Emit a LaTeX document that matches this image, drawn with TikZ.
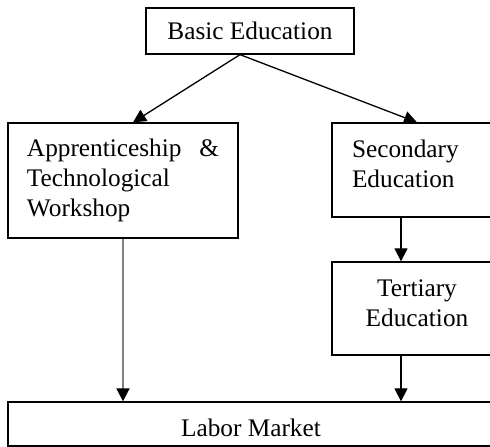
\documentclass[tikz,border=0pt]{standalone}
\usepackage{fontspec}
\setmainfont{Liberation Serif}
\usetikzlibrary{arrows.meta}

\begin{document}
\begin{tikzpicture}[
    x=1pt, y=1pt,
    box/.style={rectangle, draw=black, line width=1.3pt, fill=white,
        inner sep=0pt, font=\fontsize{25.3}{30}\selectfont},
    link/.style={line width=1.3pt, -{Triangle[length=13pt,width=13pt,color=black]}}
]
    \fill[white] (0,0) rectangle (490,447);
    \useasboundingbox (0,0) rectangle (490,447);
    \node[box, minimum width=208pt, minimum height=46pt] (basic) at (250,416) {Basic Education};
    \node[box, minimum width=230pt, minimum height=115pt, text width=192pt, align=left] (appr) at (123,266.5)
        {Apprenticeship\hfill\&\\Technological\\Workshop};
    \node[box, minimum width=170pt, minimum height=94pt, text width=130pt, align=left, text depth=43pt] (second) at (417,277)
        {Secondary\\Education};
    \node[box, minimum width=170pt, minimum height=93pt, align=center, text depth=11pt] (third) at (417,138.5)
        {Tertiary\\Education};
    \node[box, minimum width=486pt, minimum height=44pt, text height=25pt] (labor) at (251,23) {Labor Market};
    \draw[link] ([xshift=-10pt]basic.south) -- ([xshift=10pt]appr.north);
    \draw[link] ([xshift=-10pt]basic.south) -- (second.north);
    \draw[link, draw=gray, line width=1.8pt] (appr.south) -- (appr.south |- labor.north);
    \draw[link] ([xshift=-16pt]second.south) -- ([xshift=-16pt]third.north);
    \draw[link] ([xshift=-16pt]third.south) -- ([xshift=-16pt]third.south |- labor.north);
\end{tikzpicture}
\end{document}
